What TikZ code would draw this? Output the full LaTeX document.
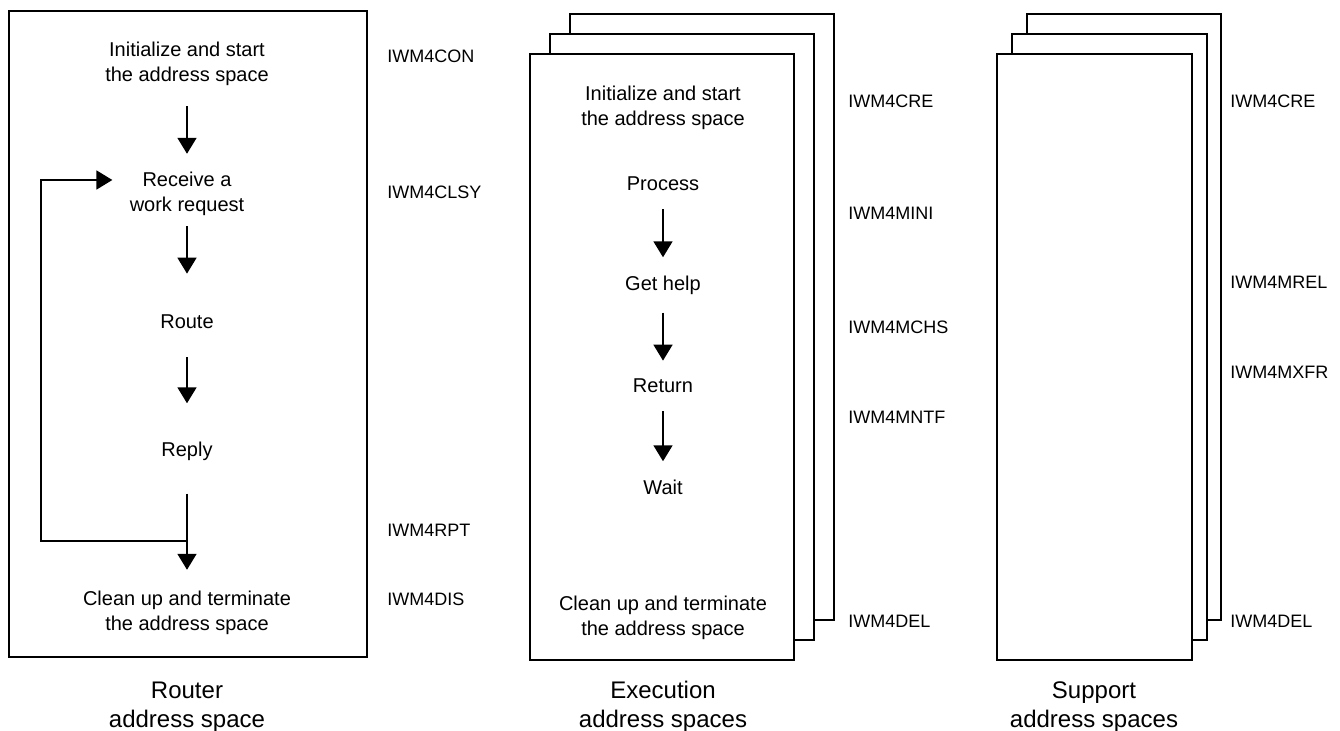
\documentclass[tikz,border=0pt]{standalone}
\usepackage{fontspec}
\setmainfont{Liberation Sans}
\usetikzlibrary{arrows.meta}

\tikzset{
  sheet/.style={draw, fill=white, line width=0.9pt},
  steptext/.style={inner sep=0pt, align=center, font=\fontsize{10}{12.5}\selectfont},
  modname/.style={inner sep=0pt, anchor=west, font=\fontsize{9}{11}\selectfont},
  caption/.style={inner sep=0pt, align=center, font=\fontsize{12}{14.5}\selectfont},
  flow/.style={line width=0.9pt, -{Triangle[width=9.5pt,length=8pt]}, shorten <=9pt, shorten >=9pt}
}

\begin{document}
\begin{tikzpicture}
    [ x=0.5pt, y=-0.5pt
    ]
\useasboundingbox (0,0) rectangle (1340,731);

% router address space
\draw[sheet] (9,11) rectangle (367,657);
\node[steptext] (rinit)  at (187,64)  {Initialize and start\\the address space};
\node[steptext] (rrecv)  at (187,194) {Receive a\\work request};
\node[steptext] (rroute) at (187,322) {Route};
\node[steptext] (rreply) at (187,451) {Reply};
\node[steptext] (rclean) at (187,613) {Clean up and terminate\\the address space};
\coordinate (rjoin) at (187,541);
\coordinate (rloop) at (41,541);

\draw[flow, shorten <=10pt, shorten >=9pt]    (rinit)  -- (rrecv);
\draw[flow, shorten <=5pt, shorten >=20.5pt]  (rrecv)  -- (rroute);
\draw[flow, shorten <=14pt, shorten >=19pt]   (rroute) -- (rreply);
\draw[flow, shorten <=16.5pt, shorten >=10.5pt] (rreply) -- (rclean);
\draw[flow, shorten <=0pt, shorten >=8.5pt]   (rjoin) -- (rloop) |- ([yshift=7pt]rrecv.west);

\node[modname] (rcon)  at (387,56)  {IWM4CON};
\node[modname] (rclsy) at (387,192) {IWM4CLSY};
\node[modname] (rrpt)  at (387,530) {IWM4RPT};
\node[modname] (rdis)  at (387,599) {IWM4DIS};

\node[caption] (rcap) at (187,707) {Router\\address space};

% execution address spaces
\draw[sheet] (570,14) rectangle (834,620);
\draw[sheet] (550,34) rectangle (814,640);
\draw[sheet] (530,54) rectangle (794,660);
\node[steptext] (einit)  at (663,108) {Initialize and start\\the address space};
\node[steptext] (eproc)  at (663,184) {Process};
\node[steptext] (ehelp)  at (663,285) {Get help};
\node[steptext] (eret)   at (663,386) {Return};
\node[steptext] (ewait)  at (663,487) {Wait};
\node[steptext] (eclean) at (663,618) {Clean up and terminate\\the address space};

\draw[flow] (eproc) -- (ehelp);
\draw[flow] (ehelp) -- (eret);
\draw[flow] (eret)  -- (ewait);

\node[modname] (ecre)  at (848,101) {IWM4CRE};
\node[modname] (emini) at (848,213) {IWM4MINI};
\node[modname] (emchs) at (848,327) {IWM4MCHS};
\node[modname] (emntf) at (848,417) {IWM4MNTF};
\node[modname] (edel)  at (848,621) {IWM4DEL};

\node[caption] (ecap) at (663,707) {Execution\\address spaces};

% support address spaces
\draw[sheet] (1027,14) rectangle (1221,620);
\draw[sheet] (1012,34) rectangle (1207,640);
\draw[sheet] (997,54)  rectangle (1192,660);

\node[modname] (scre)  at (1230,101) {IWM4CRE};
\node[modname] (smrel) at (1230,282) {IWM4MREL};
\node[modname] (smxfr) at (1230,372) {IWM4MXFR};
\node[modname] (sdel)  at (1230,621) {IWM4DEL};

\node[caption] (scap) at (1094,707) {Support\\address spaces};

\end{tikzpicture}
\end{document}
